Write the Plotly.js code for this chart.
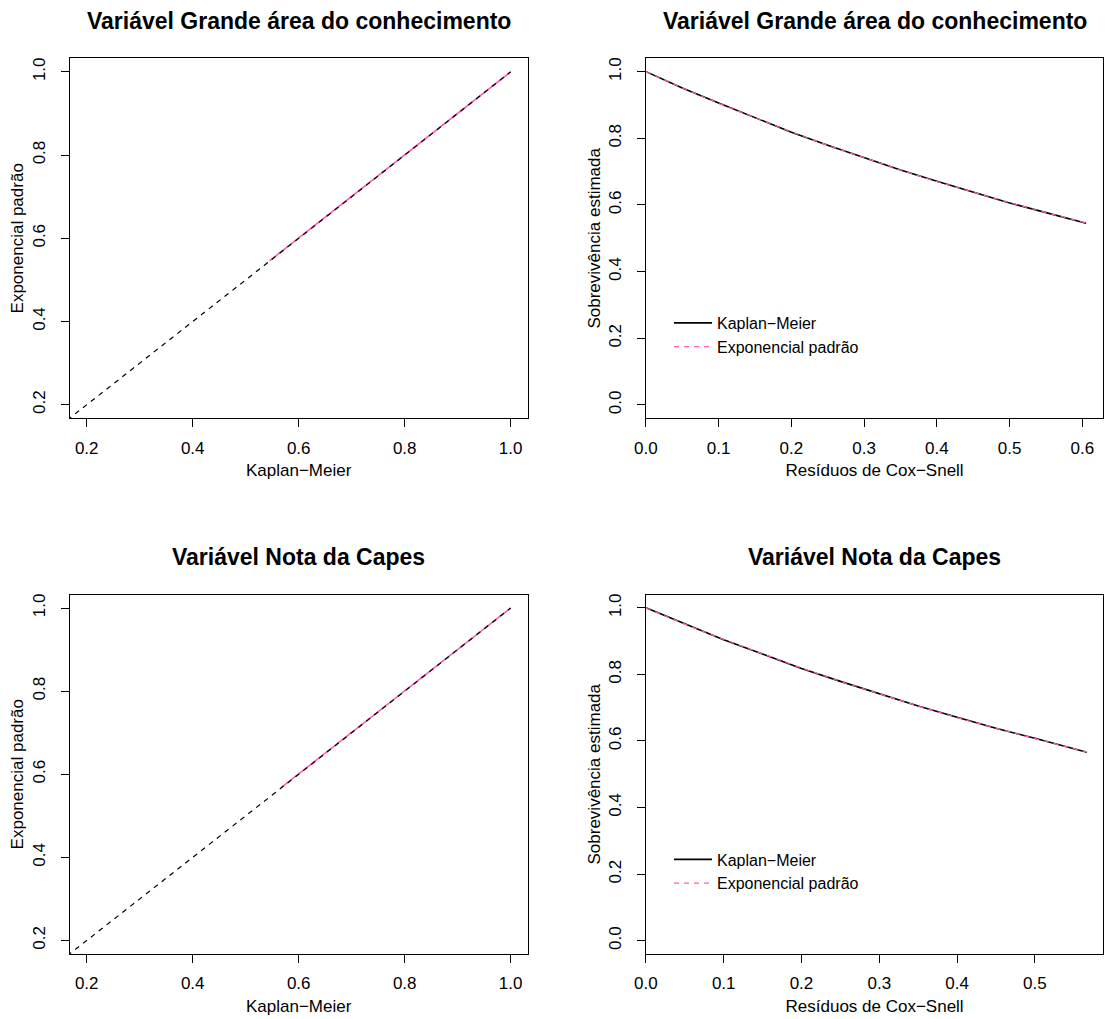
<!DOCTYPE html>
<html>
<head>
<meta charset="utf-8">
<script src="https://cdn.plot.ly/plotly-3.0.1.min.js"></script>
<style>
  html, body { margin: 0; padding: 0; background: #ffffff; }
  #chart { width: 1105px; height: 1019px; }
</style>
</head>
<body>
<div id="chart"></div>
<script>
// ---------- data ----------
// Top row: "Variável Grande área do conhecimento"
const coxSnell1 = [0.00, 0.05, 0.10, 0.15, 0.20, 0.25, 0.30, 0.35, 0.40, 0.45, 0.50, 0.55, 0.60, 0.605];
const kmSurv1   = [1.000, 0.951, 0.906, 0.861, 0.818, 0.779, 0.742, 0.705, 0.671, 0.638, 0.606, 0.577, 0.549, 0.545];
const expSurv1  = [1.000, 0.951, 0.905, 0.861, 0.819, 0.779, 0.741, 0.705, 0.670, 0.638, 0.607, 0.577, 0.549, 0.546];

// Bottom row: "Variável Nota da Capes"
const coxSnell2 = [0.00, 0.05, 0.10, 0.15, 0.20, 0.25, 0.30, 0.35, 0.40, 0.45, 0.50, 0.55, 0.567];
const kmSurv2   = [1.000, 0.951, 0.904, 0.861, 0.818, 0.779, 0.741, 0.705, 0.671, 0.638, 0.608, 0.577, 0.566];
const expSurv2  = [1.000, 0.951, 0.905, 0.861, 0.819, 0.779, 0.741, 0.705, 0.670, 0.638, 0.607, 0.577, 0.567];

// identity reference line (0,0) -> (1,1)
const diagLine = [0, 1];

const panelTitles = ["Variável Grande área do conhecimento", "Variável Nota da Capes"];
const seriesNames = ["Kaplan−Meier", "Exponencial padrão"];
const xTitleLeft  = "Kaplan−Meier";
const yTitleLeft  = "Exponencial padrão";
const xTitleRight = "Resíduos de Cox−Snell";
const yTitleRight = "Sobrevivência estimada";

// ---------- styling ----------
const PINK = "#FF5FB4";
const FONT = "Liberation Sans, Arial, Helvetica, sans-serif";
const W = 1105, H = 1019;
const px = v => v / W;
const py = v => 1 - v / H;

const ppRange = [0.1675, 1.0325];    // left panels (both axes)
const survY   = [-0.04, 1.04];       // right panels y
const csRange1 = [0, 0.6287];
const csRange2 = [0, 0.588];

const colL = [px(69.5), px(527.9)];
const colR = [px(645.9), px(1103.3)];
const rowT = [py(418.3), py(58.3)];
const rowB = [py(954), py(594.5)];

function axisBase(extra) {
  return Object.assign({
    showgrid: false, zeroline: false,
    showline: true, mirror: true, linecolor: "#000", linewidth: 1,
    ticks: "outside", ticklen: 8, tickwidth: 1, tickcolor: "#000",
    tickfont: {family: FONT, size: 17, color: "#000"},
    tickformat: ".1f",
    automargin: false, fixedrange: true
  }, extra);
}
function xTitle(t) { return {text: t, font: {family: FONT, size: 17, color: "#000"}, standoff: 7}; }
function yTitle(t) { return {text: t, font: {family: FONT, size: 17, color: "#000"}, standoff: 1}; }

const traces = [
  // Panel 1: exponential vs KM
  {x: kmSurv1, y: expSurv1, xaxis: "x", yaxis: "y", type: "scatter", mode: "lines",
   line: {color: PINK, width: 1.6}, showlegend: false, hoverinfo: "skip"},
  {x: diagLine, y: diagLine, xaxis: "x", yaxis: "y", type: "scatter", mode: "lines",
   line: {color: "#000", width: 1.2, dash: "5px,5px"}, showlegend: false, hoverinfo: "skip"},
  // Panel 2: survival curves
  {x: coxSnell1, y: kmSurv1, xaxis: "x2", yaxis: "y2", type: "scatter", mode: "lines",
   name: seriesNames[0], legend: "legend", line: {color: "#000", width: 1.6}},
  {x: coxSnell1, y: expSurv1, xaxis: "x2", yaxis: "y2", type: "scatter", mode: "lines",
   name: seriesNames[1], legend: "legend", line: {color: PINK, width: 1.2, dash: "5px,5px"}},
  // Panel 3
  {x: kmSurv2, y: expSurv2, xaxis: "x3", yaxis: "y3", type: "scatter", mode: "lines",
   line: {color: PINK, width: 1.6}, showlegend: false, hoverinfo: "skip"},
  {x: diagLine, y: diagLine, xaxis: "x3", yaxis: "y3", type: "scatter", mode: "lines",
   line: {color: "#000", width: 1.2, dash: "5px,5px"}, showlegend: false, hoverinfo: "skip"},
  // Panel 4
  {x: coxSnell2, y: kmSurv2, xaxis: "x4", yaxis: "y4", type: "scatter", mode: "lines",
   name: seriesNames[0], legend: "legend2", line: {color: "#000", width: 1.6}},
  {x: coxSnell2, y: expSurv2, xaxis: "x4", yaxis: "y4", type: "scatter", mode: "lines",
   name: seriesNames[1], legend: "legend2", line: {color: PINK, width: 1.2, dash: "5px,5px"}}
];

const legendStyle = {
  bgcolor: "rgba(0,0,0,0)", borderwidth: 0,
  font: {family: FONT, size: 16, color: "#000"},
  xanchor: "left", yanchor: "top", tracegroupgap: 0, itemwidth: 38
};

const titleFont = {family: FONT, size: 23, color: "#000"};

const layout = {
  width: W, height: H,
  margin: {l: 0, r: 0, t: 0, b: 0},
  paper_bgcolor: "#fff", plot_bgcolor: "#fff",
  font: {family: FONT, color: "#000"},
  xaxis:  axisBase({domain: colL, range: ppRange, dtick: 0.2, tick0: 0.2, anchor: "y",  ticklabelstandoff: 6, title: xTitle(xTitleLeft)}),
  yaxis:  axisBase({domain: rowT, range: ppRange, dtick: 0.2, tick0: 0.2, anchor: "x",  tickangle: -90, ticklabelstandoff: 9, title: yTitle(yTitleLeft)}),
  xaxis2: axisBase({domain: colR, range: csRange1, dtick: 0.1, tick0: 0, anchor: "y2", ticklabelstandoff: 6, title: xTitle(xTitleRight)}),
  yaxis2: axisBase({domain: rowT, range: survY, dtick: 0.2, tick0: 0, anchor: "x2", tickangle: -90, ticklabelstandoff: 9, title: yTitle(yTitleRight)}),
  xaxis3: axisBase({domain: colL, range: ppRange, dtick: 0.2, tick0: 0.2, anchor: "y3", ticklabelstandoff: 6, title: xTitle(xTitleLeft)}),
  yaxis3: axisBase({domain: rowB, range: ppRange, dtick: 0.2, tick0: 0.2, anchor: "x3", tickangle: -90, ticklabelstandoff: 9, title: yTitle(yTitleLeft)}),
  xaxis4: axisBase({domain: colR, range: csRange2, dtick: 0.1, tick0: 0, anchor: "y4", ticklabelstandoff: 6, title: xTitle(xTitleRight)}),
  yaxis4: axisBase({domain: rowB, range: survY, dtick: 0.2, tick0: 0, anchor: "x4", tickangle: -90, ticklabelstandoff: 9, title: yTitle(yTitleRight)}),
  legend:  Object.assign({x: px(669), y: py(306)}, legendStyle),
  legend2: Object.assign({x: px(669), y: py(842.5)}, legendStyle),
  annotations: [
    {text: "<b>" + panelTitles[0] + "</b>", xref: "paper", yref: "paper", x: (colL[0]+colL[1])/2, y: py(20.5),
     xanchor: "center", yanchor: "middle", showarrow: false, font: titleFont},
    {text: "<b>" + panelTitles[0] + "</b>", xref: "paper", yref: "paper", x: (colR[0]+colR[1])/2, y: py(20.5),
     xanchor: "center", yanchor: "middle", showarrow: false, font: titleFont},
    {text: "<b>" + panelTitles[1] + "</b>", xref: "paper", yref: "paper", x: (colL[0]+colL[1])/2, y: py(556.5),
     xanchor: "center", yanchor: "middle", showarrow: false, font: titleFont},
    {text: "<b>" + panelTitles[1] + "</b>", xref: "paper", yref: "paper", x: (colR[0]+colR[1])/2, y: py(556.5),
     xanchor: "center", yanchor: "middle", showarrow: false, font: titleFont}
  ]
};

Plotly.newPlot("chart", traces, layout, {displayModeBar: false, staticPlot: true});
</script>
</body>
</html>
